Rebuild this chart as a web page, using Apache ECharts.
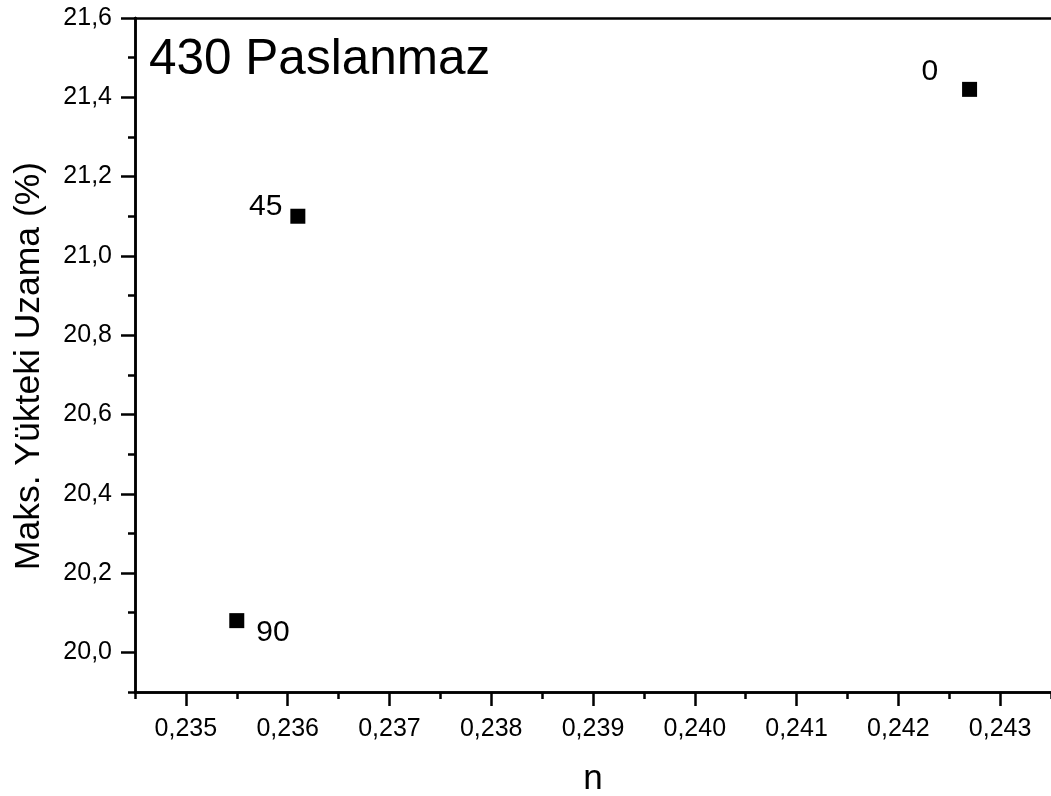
<!DOCTYPE html>
<html>
<head>
<meta charset="utf-8">
<script src="https://cdn.jsdelivr.net/npm/echarts@6/dist/echarts.min.js"></script>
<style>
  html, body { margin: 0; padding: 0; background: #fff; }
  #chart { width: 1051px; height: 796px; }
</style>
</head>
<body>
<div id="chart"></div>
<script>
// data
const nValues = [0.2427, 0.2361, 0.2355];
const elongation = [21.42, 21.10, 20.08];
const angleLabels = ['0', '45', '90'];

// tick labels
const xMajorTicks = [0.235, 0.236, 0.237, 0.238, 0.239, 0.240, 0.241, 0.242, 0.243];
const xMinorTicks = [0.2345, 0.2355, 0.2365, 0.2375, 0.2385, 0.2395, 0.2405, 0.2415, 0.2425, 0.2435];
const yMajorTicks = [20.0, 20.2, 20.4, 20.6, 20.8, 21.0, 21.2, 21.4, 21.6];
const yMinorTicks = [19.9, 20.1, 20.3, 20.5, 20.7, 20.9, 21.1, 21.3, 21.5];

const FONT = '"Liberation Sans", Arial, sans-serif';
const LINE = { color: '#000', width: 2.5 };

// label placement per point (0 upper-left, 45 left, 90 lower-right)
const labelPlace = [
    { position: 'left', distance: 24, offset: [0, -18] },
    { position: 'left', distance: 8, offset: [0, -10] },
    { position: 'right', distance: 12, offset: [0, 12] }
];

const chart = echarts.init(document.getElementById('chart'));

const comma = (v, d) => v.toFixed(d).replace('.', ',');

const options = {
    animation: false,
    backgroundColor: '#fff',
    title: {
        text: '430 Paslanmaz',
        left: 144,
        top: 30,
        textStyle: { fontFamily: FONT, fontSize: 49.5, fontWeight: 'normal', color: '#000' }
    },
    grid: { left: 135, right: 0, top: 18, bottom: 104, outerBoundsMode: 'none' },
    xAxis: [
        {
            type: 'value',
            min: 0.2345,
            max: 0.2435,
            name: 'n',
            nameLocation: 'middle',
            nameGap: 70,
            nameTextStyle: { fontFamily: FONT, fontSize: 35, color: '#000' },
            splitLine: { show: false },
            axisLine: { lineStyle: LINE },
            axisTick: { customValues: xMajorTicks, length: 14, lineStyle: LINE },
            axisLabel: {
                customValues: xMajorTicks,
                margin: 25,
                fontFamily: FONT,
                fontSize: 25,
                color: '#000',
                formatter: v => comma(v, 3)
            }
        },
        {
            type: 'value',
            min: 0.2345,
            max: 0.2435,
            position: 'bottom',
            splitLine: { show: false },
            axisLine: { lineStyle: LINE },
            axisTick: { customValues: xMinorTicks, length: 7, lineStyle: LINE },
            axisLabel: { show: false }
        },
        {
            type: 'value',
            min: 0.2345,
            max: 0.2435,
            position: 'top',
            splitLine: { show: false },
            axisLine: { lineStyle: LINE },
            axisTick: { show: false },
            axisLabel: { show: false }
        }
    ],
    yAxis: [
        {
            type: 'value',
            min: 19.9,
            max: 21.6,
            name: 'Maks. Yükteki Uzama (%)',
            nameLocation: 'middle',
            nameGap: 88,
            nameTextStyle: { fontFamily: FONT, fontSize: 35.5, color: '#000', padding: [0, 22, 0, 0] },
            splitLine: { show: false },
            axisLine: { lineStyle: LINE },
            axisTick: { customValues: yMajorTicks, length: 14, lineStyle: LINE },
            axisLabel: {
                customValues: yMajorTicks,
                margin: 23,
                fontFamily: FONT,
                fontSize: 25,
                color: '#000',
                formatter: v => comma(v, 1)
            }
        },
        {
            type: 'value',
            min: 19.9,
            max: 21.6,
            position: 'left',
            splitLine: { show: false },
            axisLine: { lineStyle: LINE },
            axisTick: { customValues: yMinorTicks, length: 7, lineStyle: LINE },
            axisLabel: { show: false }
        }
    ],
    series: [
        {
            type: 'scatter',
            xAxisIndex: 0,
            yAxisIndex: 0,
            symbol: 'rect',
            symbolSize: 15,
            clip: false,
            itemStyle: { color: '#000', opacity: 1 },
            label: {
                show: true,
                fontFamily: FONT,
                fontSize: 30,
                color: '#000',
                formatter: p => angleLabels[p.dataIndex]
            },
            data: nValues.map((x, i) => ({
                value: [x, elongation[i]],
                label: labelPlace[i]
            }))
        }
    ]
};

chart.setOption(options);
</script>
</body>
</html>
